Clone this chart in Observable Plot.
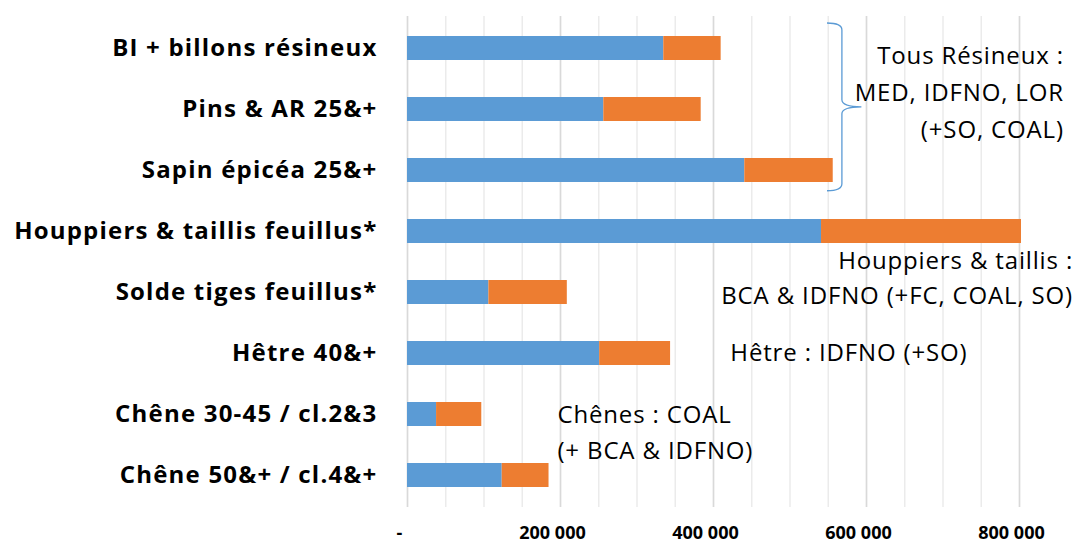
<!DOCTYPE html>
<html><head><meta charset="utf-8">
<script src="https://cdn.jsdelivr.net/npm/d3@7"></script>
<script src="https://cdn.jsdelivr.net/npm/@observablehq/plot@0.6"></script>
<style>
body{margin:0;background:#fff}
</style>
</head><body><div id="chart"></div>
<script>
const categories = ["BI + billons résineux", "Pins & AR 25&+", "Sapin épicéa 25&+", "Houppiers & taillis feuillus*", "Solde tiges feuillus*", "Hêtre 40&+", "Chêne 30-45 / cl.2&3", "Chêne 50&+ / cl.4&+"];
const seriesNames = ["Série 1", "Série 2"];
const blueValues = [335000, 256600, 440900, 541200, 106400, 251200, 38000, 123800];
const orangeValues = [75000, 127300, 115600, 261400, 102500, 92700, 59100, 61200];
const tickValues = [0, 200000, 400000, 600000, 800000];
const tickLabels = ["-", "200 000", "400 000", "600 000", "800 000"];
const minorTicks = d3.range(0, 800001, 50000);
const annotationTexts = [
  "Tous Résineux :\nMED, IDFNO, LOR\n(+SO, COAL)",
  "Houppiers & taillis :\nBCA & IDFNO (+FC, COAL, SO)",
  "Hêtre : IDFNO (+SO)",
  "Chênes : COAL\n(+ BCA & IDFNO)"
];
const annotationX = [858000, 870000, 422000, 196000];
const annotationY = ["Pins & AR 25&+", "Solde tiges feuillus*", "Hêtre 40&+", "Chêne 30-45 / cl.2&3"];
const annotationDy = [-20, -17, 0, 15];
const annotationAnchor = ["end", "end", "start", "start"];
const annotationLineHeight = [1.54, 1.46, 1, 1.5];

const rows = [];
categories.forEach((c, i) => {
  rows.push({category: c, series: seriesNames[0], value: blueValues[i]});
  rows.push({category: c, series: seriesNames[1], value: orangeValues[i]});
});

const font = "'Open Sans', sans-serif";
const annotationMarks = annotationTexts.map((t, i) => Plot.text([t], {
  x: () => annotationX[i], y: () => annotationY[i], text: d => d,
  dy: annotationDy[i], textAnchor: annotationAnchor[i],
  lineHeight: annotationLineHeight[i], fontSize: 24, fill: "#000"
}));

const plot = Plot.plot({
  width: 1077,
  height: 543,
  marginLeft: 407,
  marginRight: 58,
  marginTop: 16,
  marginBottom: 36,
  style: {fontFamily: font, background: "#fff", color: "#000", overflow: "visible"},
  x: {domain: [0, 800000], axis: null},
  y: {domain: categories, paddingInner: 0.61, paddingOuter: 0.305, label: null},
  color: {domain: seriesNames, range: ["#5B9BD5", "#ED7D31"]},
  marks: [
    Plot.ruleX(minorTicks, {stroke: "#EBEBEB", strokeWidth: 1.5}),
    Plot.ruleX(tickValues, {stroke: "#D9D9D9", strokeWidth: 1.5}),
    Plot.barX(rows, {x: "value", y: "category", fill: "series"}),
    Plot.axisY({tickSize: 0, tickPadding: 30, fontSize: 24, fontWeight: "bold", fill: "#000", label: null}),
    Plot.text(tickValues, {
      x: d => d, dx: -8,
      frameAnchor: "bottom", lineAnchor: "middle", dy: 26,
      text: (d, i) => tickLabels[i],
      fontSize: 18, fontWeight: "bold", fill: "#000"
    }),
    ...annotationMarks
  ]
});
document.getElementById("chart").appendChild(plot);

const svg = d3.select(plot);
// slight letter spacing to match the horizontally stretched original
svg.selectAll("g[aria-label='y-axis tick label'] text").style("letter-spacing", "1.2px");
svg.selectAll("g[font-size='24']:not([aria-label='y-axis tick label']) text").style("letter-spacing", "0.85px");

// curly brace around the softwood group, positioned with the plot's scales
const xs = plot.scale("x"), ys = plot.scale("y");
const x0 = xs.apply(549000), x1 = xs.apply(568500), x2 = xs.apply(594000);
const bw = ys.bandwidth, step = ys.step;
const yTop = ys.apply(categories[0]) + bw / 2 - 0.41 * step;
const yBot = ys.apply(categories[2]) + bw / 2 + 0.34 * step;
const yMid = (yTop + yBot) / 2;
const r = 7;
const path = `M${x0},${yTop} Q${x1},${yTop} ${x1},${yTop + r} L${x1},${yMid - r} Q${x1},${yMid} ${x2},${yMid} Q${x1},${yMid} ${x1},${yMid + r} L${x1},${yBot - r} Q${x1},${yBot} ${x0},${yBot}`;
svg.append("path").attr("d", path).attr("fill", "none").attr("stroke", "#5B9BD5").attr("stroke-width", 1.3);
</script>
</body></html>
